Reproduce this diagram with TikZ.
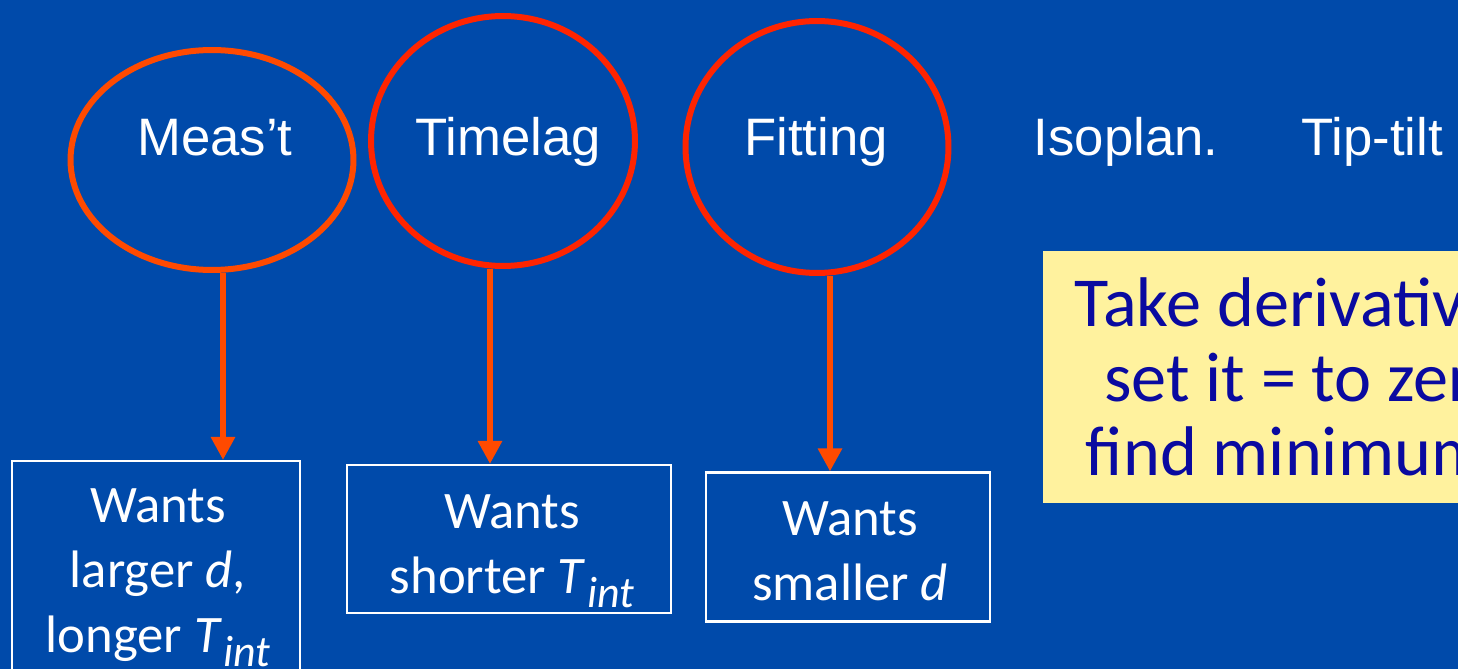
\documentclass[tikz,border=0pt]{standalone}
\usepackage{fontspec}
\setmainfont{Carlito}
\newfontfamily\arialfont{Liberation Sans}
\usetikzlibrary{arrows.meta}
\usetikzlibrary{shapes.geometric}
\tikzset{>=latex}

\definecolor{slideblue}{RGB}{0,74,170}
\definecolor{fireorange}{RGB}{255,74,0}
\definecolor{firered}{RGB}{255,36,0}
\definecolor{notepaper}{RGB}{255,242,158}
\definecolor{noteink}{RGB}{10,10,160}

\newcommand{\Tint}{\textit{T}\kern0.03em\raisebox{-0.26em}{\fontsize{25}{25}\selectfont\itshape int}}

\tikzset{
  bubble/.style={draw, ellipse, line width=0.12cm, inner sep=0pt},
  term/.style={text=white, font=\arialfont\fontsize{30}{36}\selectfont, anchor=base},
  wantbox/.style={draw=white, line width=1.2pt, inner sep=0pt},
  wanttext/.style={text=white, align=center, font=\fontsize{30}{37}\selectfont, inner sep=0pt},
  pull/.style={draw=fireorange, line width=0.12cm, -{Triangle[length=0.46cm,width=0.46cm]}},
}

\begin{document}
\begin{tikzpicture}[x=0.02cm, y=-0.02cm]
    \useasboundingbox (0,0) rectangle (1458,669);
    \clip (0,0) rectangle (1458,669);
    \fill[slideblue] (0,0) rectangle (1458,669);

    % error terms
    \node[bubble, draw=fireorange, minimum width=5.66cm, minimum height=4.4cm] (meas) at (212,160) {};
    \node[bubble, draw=firered, minimum width=5.28cm, minimum height=5.0cm] (lag) at (503,141) {};
    \node[bubble, draw=firered, minimum width=5.26cm, minimum height=5.04cm] (fit) at (817,147) {};
    \node[term] (measlbl) at (215,155) {Meas’t};
    \node[term] (laglbl) at (508,155) {Timelag};
    \node[term] (fitlbl) at (816,155) {Fitting};
    \node[term] (isolbl) at (1126,155) {Isoplan.};
    \node[term] (ttlbl) at (1372,155) {Tip-tilt};

    % what each one wants
    \node[wantbox, minimum width=5.76cm, minimum height=4.4cm] (want1) at (156,571) {};
    \node[wantbox, minimum width=6.48cm, minimum height=2.96cm] (want2) at (509,539) {};
    \node[wantbox, minimum width=5.68cm, minimum height=2.98cm] (want3) at (848,547) {};
    \node[wanttext] (want1txt) at (158,578) {Wants\\larger \textit{d},\\longer \Tint};
    \node[wanttext] (want2txt) at (512,551) {Wants\\shorter \Tint};
    \node[wanttext] (want3txt) at (850,551) {Wants\\smaller \textit{d}};

    \draw[pull] ([xshift=0.22cm]meas.south) -- ([xshift=0.22cm]meas.south |- want1.north);
    \draw[pull] ([xshift=-0.26cm]lag.south) -- ([xshift=-0.26cm]lag.south |- want2.north);
    \draw[pull] ([xshift=0.26cm]fit.south) -- ([xshift=0.26cm]fit.south |- want3.north);

    \node[fill=notepaper, text=noteink, anchor=west, align=center, inner xsep=0.44cm,
      minimum height=5.04cm, font=\fontsize{40}{42.5}\selectfont] (hint) at (1043,377)
      {Take derivative,\\\hspace*{0.55em}set it = to zero,\\find minimum\hspace*{0.25em}};
\end{tikzpicture}
\end{document}
